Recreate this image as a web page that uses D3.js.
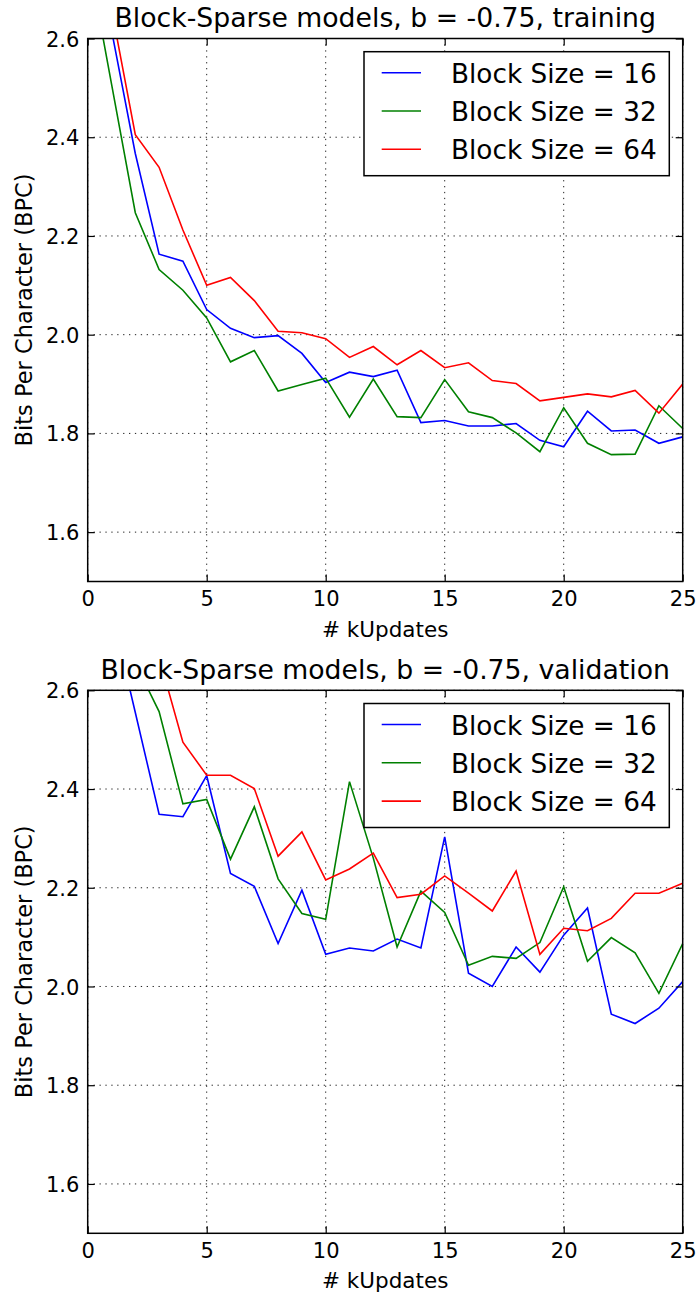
<!DOCTYPE html>
<html>
<head>
<meta charset="utf-8">
<script src="https://cdn.jsdelivr.net/npm/d3@7"></script>
<style>
  body { margin: 0; background: #fff; }
  text { font-family: "DejaVu Sans", sans-serif; fill: #000; }
</style>
</head>
<body>
<div id="chart"></div>
<script>
// x values (thousands of updates)
const kUpdates = d3.range(0, 26);

// training curves (x = 0..25)
const trainBS16 = [2.90, 2.617, 2.367, 2.163, 2.149, 2.051, 2.013, 1.994, 1.998, 1.962, 1.903, 1.924, 1.915, 1.928, 1.822, 1.826, 1.815, 1.815, 1.820, 1.786, 1.773, 1.845, 1.805, 1.807, 1.780, 1.793];
const trainBS32 = [2.77, 2.508, 2.247, 2.132, 2.090, 2.034, 1.945, 1.968, 1.886, 1.899, 1.912, 1.833, 1.910, 1.834, 1.832, 1.909, 1.844, 1.832, 1.801, 1.763, 1.852, 1.780, 1.757, 1.758, 1.856, 1.810];
const trainBS64 = [2.95, 2.66, 2.405, 2.339, 2.212, 2.100, 2.116, 2.069, 2.007, 2.004, 1.992, 1.954, 1.976, 1.939, 1.968, 1.933, 1.943, 1.907, 1.901, 1.866, 1.873, 1.880, 1.874, 1.887, 1.841, 1.900];

// validation curves (no point at x = 0)
const validBS16 = [null, 2.76, 2.555, 2.349, 2.344, 2.427, 2.229, 2.203, 2.087, 2.195, 2.065, 2.078, 2.072, 2.096, 2.078, 2.303, 2.027, 2.000, 2.080, 2.029, 2.104, 2.159, 1.944, 1.925, 1.956, 2.010];
const validBS32 = [null, 2.80, 2.655, 2.557, 2.370, 2.379, 2.258, 2.364, 2.218, 2.148, 2.136, 2.415, 2.260, 2.080, 2.193, 2.150, 2.043, 2.061, 2.057, 2.089, 2.202, 2.051, 2.099, 2.068, 1.986, 2.087];
const validBS64 = [null, 2.95, 2.85, 2.667, 2.495, 2.428, 2.428, 2.401, 2.264, 2.313, 2.216, 2.238, 2.270, 2.180, 2.187, 2.224, 2.189, 2.153, 2.234, 2.065, 2.118, 2.113, 2.138, 2.189, 2.189, 2.209];

const seriesNames = ["Block Size = 16", "Block Size = 32", "Block Size = 64"];
const seriesColors = ["#0000ff", "#008000", "#ff0000"];
const xTicks = [0, 5, 10, 15, 20, 25];
const yTicks = [1.6, 1.8, 2.0, 2.2, 2.4, 2.6];
const panelTitles = ["Block-Sparse models, b = -0.75, training", "Block-Sparse models, b = -0.75, validation"];

const width = 699, height = 1299;
const plot = {left: 87.7, top: 38.5, w: 595, h: 543};
const panelGap = 651.8;

const svg = d3.select("#chart").append("svg")
    .attr("width", width)
    .attr("height", height);

const xScale = d3.scaleLinear().domain([0, 25]).range([0, plot.w]);
const yScale = d3.scaleLinear().domain([1.5, 2.6]).range([plot.h, 0]);

function drawPanel(idx, title, seriesList) {
    const g = svg.append("g")
        .attr("transform", `translate(${plot.left},${plot.top + idx * panelGap})`);

    // dotted grid
    g.append("g").selectAll("line")
        .data(xTicks)
        .join("line")
        .attr("x1", d => xScale(d)).attr("x2", d => xScale(d))
        .attr("y1", 0).attr("y2", plot.h)
        .attr("stroke", "#222").attr("stroke-width", 1)
        .attr("stroke-dasharray", "1.3,4.6");
    g.append("g").selectAll("line")
        .data(yTicks)
        .join("line")
        .attr("x1", 0).attr("x2", plot.w)
        .attr("y1", d => yScale(d)).attr("y2", d => yScale(d))
        .attr("stroke", "#222").attr("stroke-width", 1)
        .attr("stroke-dasharray", "1.3,4.6");

    // clip for the lines
    g.append("clipPath").attr("id", "clip" + idx)
        .append("rect").attr("width", plot.w).attr("height", plot.h);

    const line = d3.line()
        .defined(d => d.v !== null)
        .x(d => xScale(d.x))
        .y(d => yScale(d.v));

    const lines = g.append("g").attr("clip-path", `url(#clip${idx})`);
    seriesList.forEach((vals, i) => {
        lines.append("path")
            .datum(kUpdates.map((x, j) => ({x: x, v: vals[j]})))
            .attr("fill", "none")
            .attr("stroke", seriesColors[i])
            .attr("stroke-width", 1.6)
            .attr("stroke-linejoin", "miter")
            .attr("d", line);
    });

    // axes with inward ticks on all four sides
    g.append("g")
        .attr("transform", `translate(0,${plot.h})`)
        .call(d3.axisBottom(xScale).tickValues(xTicks).tickSize(-7).tickPadding(10).tickFormat(d3.format("d")));
    const leftAxis = g.append("g")
        .call(d3.axisLeft(yScale).tickValues(yTicks).tickSize(-7).tickPadding(8.4).tickFormat(d3.format(".1f")));
    g.append("g")
        .call(d3.axisTop(xScale).tickValues(xTicks).tickSize(-7).tickFormat(""));
    g.append("g")
        .attr("transform", `translate(${plot.w},0)`)
        .call(d3.axisRight(yScale).tickValues(yTicks).tickSize(-7).tickFormat(""));

    g.selectAll(".domain").remove();
    g.selectAll(".tick line").attr("stroke", "#000").attr("stroke-width", 1.2);
    g.selectAll(".tick text")
        .style("font-family", "'DejaVu Sans', sans-serif")
        .style("font-size", "21px")
        .attr("fill", "#000");
    leftAxis.selectAll(".tick text").attr("dy", "0.36em");

    // frame
    g.append("rect")
        .attr("width", plot.w).attr("height", plot.h)
        .attr("fill", "none").attr("stroke", "#000").attr("stroke-width", 1.5);

    // title and axis labels
    g.append("text")
        .attr("x", plot.w / 2).attr("y", -11.5)
        .attr("text-anchor", "middle")
        .style("font-size", "26.7px")
        .text(title);
    g.append("text")
        .attr("x", plot.w / 2).attr("y", plot.h + 55)
        .attr("text-anchor", "middle")
        .style("font-size", "21.5px")
        .text("# kUpdates");
    g.append("text")
        .attr("transform", `translate(${32 - plot.left},${plot.h / 2}) rotate(-90)`)
        .attr("text-anchor", "middle")
        .style("font-size", "22.5px")
        .text("Bits Per Character (BPC)");

    // legend
    const legend = g.append("g").attr("transform", "translate(276.3,13.2)");
    legend.append("rect")
        .attr("width", 305.3).attr("height", 124)
        .attr("fill", "#fff").attr("stroke", "#000").attr("stroke-width", 1.5);
    seriesNames.forEach((name, i) => {
        const yRow = 21 + i * 38.3;
        legend.append("line")
            .attr("x1", 17.7).attr("x2", 57)
            .attr("y1", yRow).attr("y2", yRow)
            .attr("stroke", seriesColors[i]).attr("stroke-width", 1.6);
        legend.append("text")
            .attr("x", 87).attr("y", yRow + 10)
            .style("font-size", "26.3px")
            .text(name);
    });
}

drawPanel(0, panelTitles[0], [trainBS16, trainBS32, trainBS64]);
drawPanel(1, panelTitles[1], [validBS16, validBS32, validBS64]);
</script>
</body>
</html>
